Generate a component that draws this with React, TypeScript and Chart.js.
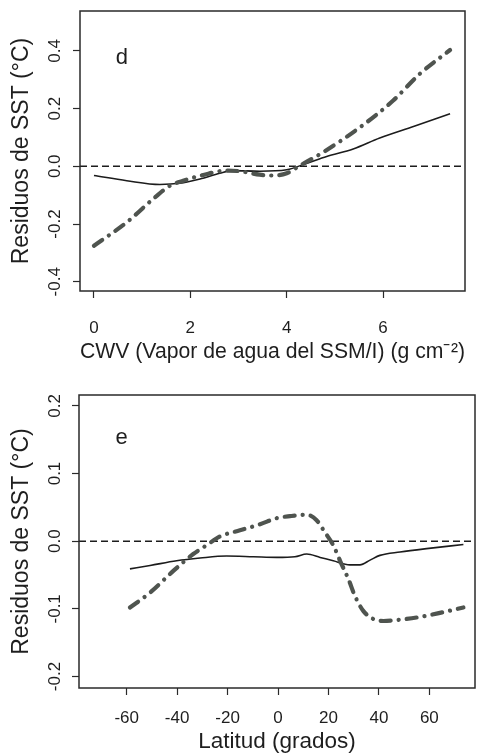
import React, { useEffect, useRef } from "react";
import { Chart, registerables } from "chart.js";

Chart.register(...registerables);

// ---------- Panel d : CWV ----------
const cwvSolidX = [0, 0.68, 1.37, 1.78, 2.2, 2.61, 2.88, 3.44, 4.0, 4.41, 4.83, 5.38, 5.93, 6.63, 7.39];
const cwvSolidY = [-0.032, -0.05, -0.063, -0.059, -0.044, -0.024, -0.015, -0.017, -0.012, 0.01, 0.034, 0.06, 0.098, 0.138, 0.182];
const cwvDashX = [0, 0.68, 1.27, 1.58, 1.85, 2.27, 2.75, 3.03, 3.44, 3.72, 4.0, 4.27, 4.76, 5.52, 6.21, 6.76, 7.39];
const cwvDashY = [-0.275, -0.194, -0.107, -0.067, -0.05, -0.03, -0.015, -0.017, -0.029, -0.032, -0.024, 0.002, 0.049, 0.135, 0.228, 0.32, 0.403];
const cwvXTicks = [0, 2, 4, 6];
const cwvXRange = [-0.29, 7.7];
const cwvYTicks = [-0.4, -0.2, 0, 0.2, 0.4];
const cwvYRange = [-0.432, 0.538];
const cwvXTitle = "CWV (Vapor de agua del SSM/I) (g cm\u207B\u00B2)";
const cwvPanelLabel = "d";
const cwvLabelPos = [0.58, 0.377];

// ---------- Panel e : Latitud ----------
const latSolidX = [-58.7, -50.7, -40.2, -30.9, -20.4, -9.8, -0.5, 6.7, 11.4, 16.7, 21.9, 28.5, 32.5, 36.5, 40.4, 48.4, 58.9, 73.5];
const latSolidY = [-0.041, -0.036, -0.029, -0.025, -0.022, -0.023, -0.024, -0.023, -0.019, -0.024, -0.029, -0.035, -0.035, -0.028, -0.021, -0.016, -0.011, -0.005];
const latDashX = [-58.7, -50.7, -41.5, -33.6, -28.3, -23, -15.1, -7.1, -0.5, 4.8, 11.4, 15.3, 18.6, 21.9, 24.6, 27.9, 30.5, 33.8, 37.8, 41.8, 48.4, 56.3, 64.2, 73.5];
const latDashY = [-0.098, -0.076, -0.044, -0.019, -0.006, 0.007, 0.016, 0.025, 0.034, 0.037, 0.039, 0.031, 0.013, -0.006, -0.029, -0.056, -0.081, -0.103, -0.115, -0.118, -0.116, -0.112, -0.106, -0.098];
const latXTicks = [-60, -40, -20, 0, 20, 40, 60];
const latXRange = [-78.9, 78.1];
const latYTicks = [-0.2, -0.1, 0, 0.1, 0.2];
const latYRange = [-0.217, 0.216];
const latXTitle = "Latitud (grados)";
const latPanelLabel = "e";
const latLabelPos = [-62, 0.153];

const yTitle = "Residuos de SST (\u00B0C)";

const FONT = "'Liberation Sans', Arial, Helvetica, sans-serif";
const TEXT = "#1e1e1e";
const INK = "#1c1c1c";
const DASHDOT = "#4f544f";

const zip = (xs: number[], ys: number[]) => xs.map((x, i) => ({ x, y: ys[i] }));

const boxPlugin = {
  id: "rbox",
  afterDatasetsDraw(chart: any) {
    const { ctx, chartArea } = chart;
    ctx.save();
    ctx.strokeStyle = "#2a2a2a";
    ctx.lineWidth = 1.5;
    ctx.strokeRect(chartArea.left, chartArea.top, chartArea.right - chartArea.left, chartArea.bottom - chartArea.top);
    ctx.restore();
  },
};

const labelPlugin = {
  id: "panelLabel",
  afterDraw(chart: any, _args: any, opts: any) {
    if (!opts || !opts.text) return;
    const { ctx, scales } = chart;
    const px = scales.x.getPixelForValue(opts.pos[0]);
    const py = scales.y.getPixelForValue(opts.pos[1]);
    ctx.save();
    ctx.font = `22px ${FONT}`;
    ctx.fillStyle = TEXT;
    ctx.textAlign = "center";
    ctx.textBaseline = "middle";
    ctx.fillText(opts.text, px, py);
    ctx.restore();
  },
};

type PanelProps = {
  solidX: number[]; solidY: number[]; dashX: number[]; dashY: number[];
  xTicks: number[]; xRange: number[]; yTicks: number[]; yRange: number[];
  xTitle: string; label: string; labelPos: number[];
  height: number; top: number; padRight: number; yAxisWidth: number;
  xAxisHeight: number; xTickPad: number; xTitlePad: number; yTickPad: number;
  xFmt: (v: number) => string;
};

function Panel(p: PanelProps) {
  const ref = useRef<HTMLCanvasElement | null>(null);
  useEffect(() => {
    if (!ref.current) return;
    const chart = new Chart(ref.current, {
      type: "line",
      data: {
        datasets: [
          {
            data: zip(p.dashX, p.dashY),
            borderColor: DASHDOT,
            borderWidth: 4.2,
            borderDash: [10, 8, 0.1, 8],
            borderCapStyle: "round",
            pointRadius: 0,
            cubicInterpolationMode: "monotone",
          },
          {
            data: zip(p.solidX, p.solidY),
            borderColor: INK,
            borderWidth: 1.6,
            pointRadius: 0,
            cubicInterpolationMode: "monotone",
          },
          {
            data: [{ x: p.xRange[0], y: 0 }, { x: p.xRange[1], y: 0 }],
            borderColor: INK,
            borderWidth: 1.5,
            borderDash: [7, 4],
            pointRadius: 0,
          },
        ],
      } as any,
      options: {
        animation: false,
        responsive: false,
        maintainAspectRatio: false,
        layout: { padding: { left: 0, right: p.padRight, top: p.top, bottom: 0 } },
        plugins: {
          legend: { display: false },
          tooltip: { enabled: false },
          panelLabel: { text: p.label, pos: p.labelPos },
        } as any,
        scales: {
          x: {
            type: "linear",
            min: p.xRange[0],
            max: p.xRange[1],
            afterBuildTicks: (s: any) => { s.ticks = p.xTicks.map((v) => ({ value: v })); },
            afterFit: (s: any) => { s.height = p.xAxisHeight; s.paddingLeft = 0; s.paddingRight = 0; },
            grid: { drawOnChartArea: false, drawTicks: true, tickLength: 7, tickColor: "#2a2a2a", tickWidth: 1.2 },
            border: { display: false },
            ticks: {
              autoSkip: false, maxRotation: 0, minRotation: 0, padding: p.xTickPad,
              color: TEXT, font: { size: 17, family: FONT },
              callback: (v: any) => p.xFmt(Number(v)),
            },
            title: {
              display: true, text: p.xTitle, color: TEXT,
              font: { size: 22.5, family: FONT }, padding: { top: 0, bottom: p.xTitlePad },
            },
          },
          y: {
            type: "linear",
            min: p.yRange[0],
            max: p.yRange[1],
            afterBuildTicks: (s: any) => { s.ticks = p.yTicks.map((v) => ({ value: v })); },
            afterFit: (s: any) => { s.width = p.yAxisWidth; s.paddingTop = 0; s.paddingBottom = 0; },
            grid: { drawOnChartArea: false, drawTicks: true, tickLength: 7, tickColor: "#2a2a2a", tickWidth: 1.2 },
            border: { display: false },
            ticks: {
              autoSkip: false, minRotation: 90, maxRotation: 90, crossAlign: "center",
              padding: p.yTickPad, color: TEXT, font: { size: 17, family: FONT },
              callback: (v: any) => Number(v).toFixed(1),
            },
            title: {
              display: true, text: yTitle, color: TEXT,
              font: { size: 23, family: FONT }, padding: { top: 7.5, bottom: 0 },
            },
          },
        },
      } as any,
      plugins: [boxPlugin, labelPlugin],
    });
    return () => chart.destroy();
  }, []);
  return <canvas ref={ref} width={477} height={p.height} style={{ display: "block", width: 477, height: p.height }} />;
}

export default function App() {
  return (
    <div style={{ position: "absolute", left: 0, top: 0, width: 477, height: 756, background: "#fff" }}>
      <Panel
        solidX={cwvSolidX} solidY={cwvSolidY} dashX={cwvDashX} dashY={cwvDashY}
        xTicks={cwvXTicks} xRange={cwvXRange} yTicks={cwvYTicks} yRange={cwvYRange}
        xTitle={cwvXTitle} label={cwvPanelLabel} labelPos={cwvLabelPos}
        height={378} top={11} padRight={12} yAxisWidth={80}
        xAxisHeight={87} xTickPad={20.5} xTitlePad={12.5} yTickPad={3.5}
        xFmt={(v) => String(v)}
      />
      <Panel
        solidX={latSolidX} solidY={latSolidY} dashX={latDashX} dashY={latDashY}
        xTicks={latXTicks} xRange={latXRange} yTicks={latYTicks} yRange={latYRange}
        xTitle={latXTitle} label={latPanelLabel} labelPos={latLabelPos}
        height={378} top={17} padRight={2} yAxisWidth={79}
        xAxisHeight={68} xTickPad={13.5} xTitlePad={0.5} yTickPad={2.5}
        xFmt={(v) => String(v)}
      />
    </div>
  );
}
